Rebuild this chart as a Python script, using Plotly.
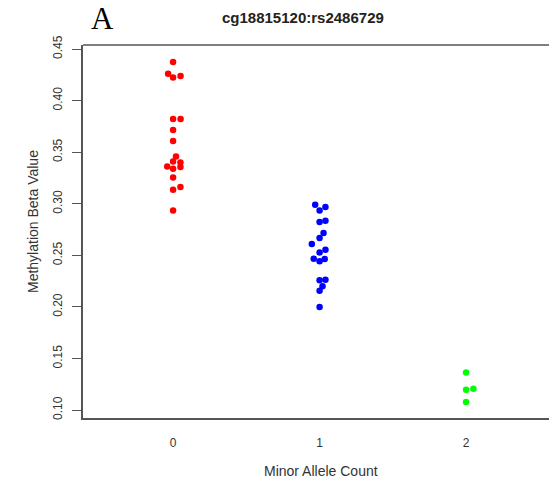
import plotly.graph_objects as go

# Data
groups = [0, 1, 2]
group_colors = ["#FF0000", "#0000FF", "#00FF00"]

beta_0 = [0.4374, 0.4261, 0.4225, 0.4238, 0.3822, 0.3822, 0.3715, 0.3609,
          0.3459, 0.3410, 0.3401, 0.3362, 0.3340, 0.3356, 0.3256, 0.3137,
          0.3163, 0.2936]
jitter_0 = [0.0, -0.034, 0.0, 0.051, 0.0, 0.051, 0.0, 0.0,
            0.02, 0.0, 0.05, -0.04, 0.0, 0.05, 0.0, 0.0,
            0.05, 0.0]

beta_1 = [0.2991, 0.2969, 0.2936, 0.2824, 0.2836, 0.2717, 0.2669, 0.2610,
          0.2555, 0.2529, 0.2468, 0.2442, 0.2465, 0.2258, 0.2265, 0.2200,
          0.2158, 0.2000]
jitter_1 = [-0.03, 0.04, 0.0, 0.0, 0.04, 0.027, 0.0, -0.053,
            0.04, 0.0, -0.04, 0.0, 0.035, 0.0, 0.04, 0.02,
            0.0, 0.0]

beta_2 = [0.1366, 0.1199, 0.1208, 0.1080]
jitter_2 = [0.0, 0.0, 0.05, 0.0]

y_ticks = [0.10, 0.15, 0.20, 0.25, 0.30, 0.35, 0.40, 0.45]
y_tick_labels = ["0.10", "0.15", "0.20", "0.25", "0.30", "0.35", "0.40", "0.45"]
x_tick_labels = ["0", "1", "2"]

title_text = "cg18815120:rs2486729"
panel_label = "A"
x_title = "Minor Allele Count"
y_title = "Methylation Beta Value"

fig = go.Figure()
for g, vals, jit, col in zip(groups, [beta_0, beta_1, beta_2],
                             [jitter_0, jitter_1, jitter_2], group_colors):
    fig.add_trace(go.Scatter(
        x=[g + j for j in jit], y=vals, mode="markers",
        marker=dict(color=col, size=6.5, line=dict(width=0)),
        showlegend=False, hoverinfo="y"))

FAM = "Liberation Sans, Arial, sans-serif"
tick_font = dict(family=FAM, size=12, color="#333333")

L, T, W, H = 83, 45, 466, 373  # plot box in pixels (for text placement only)

fig.update_layout(
    width=549, height=483,
    margin=dict(l=L, r=0, t=T, b=483 - T - H),
    paper_bgcolor="white", plot_bgcolor="white",
    font=tick_font,
    xaxis=dict(
        range=[-0.615, 2.566], tickvals=groups, ticktext=x_tick_labels,
        showgrid=False, zeroline=False, showline=True, linecolor="#555555",
        linewidth=1.5, ticks="", tickfont=tick_font, ticklabelstandoff=13,
    ),
    yaxis=dict(
        range=[0.0924, 0.4539], tickvals=y_ticks, ticktext=y_tick_labels,
        showgrid=False, zeroline=False, showline=True, linecolor="#555555",
        linewidth=1.5, ticks="outside", ticklen=9, tickwidth=1.2, tickcolor="#555555",
        tickangle=-90, tickfont=tick_font, ticklabelstandoff=5,
    ),
    shapes=[dict(type="line", xref="paper", yref="paper", x0=0, x1=1, y0=1, y1=1,
                 line=dict(color="#555555", width=1.5))],
    annotations=[
        dict(text="<b>" + title_text + "</b>", xref="paper", yref="paper",
             x=(303 - L) / W, y=1, yshift=28, showarrow=False,
             xanchor="center", yanchor="middle",
             font=dict(family=FAM, size=15, color="#222222")),
        dict(text=panel_label, xref="paper", yref="paper",
             x=(102 - L) / W, y=1, yshift=27, showarrow=False,
             xanchor="center", yanchor="middle",
             font=dict(family="Liberation Serif, Times New Roman, serif", size=31, color="black")),
        dict(text=x_title, xref="paper", yref="paper",
             x=(321 - L) / W, y=0, yshift=-53, showarrow=False,
             xanchor="center", yanchor="middle",
             font=dict(family=FAM, size=14, color="#333333")),
        dict(text=y_title, xref="paper", yref="paper", textangle=-90,
             x=0, xshift=33 - L, y=(T + H - 222) / H, showarrow=False,
             xanchor="center", yanchor="middle",
             font=dict(family=FAM, size=14, color="#333333")),
    ],
)

fig.write_html("out.html")
